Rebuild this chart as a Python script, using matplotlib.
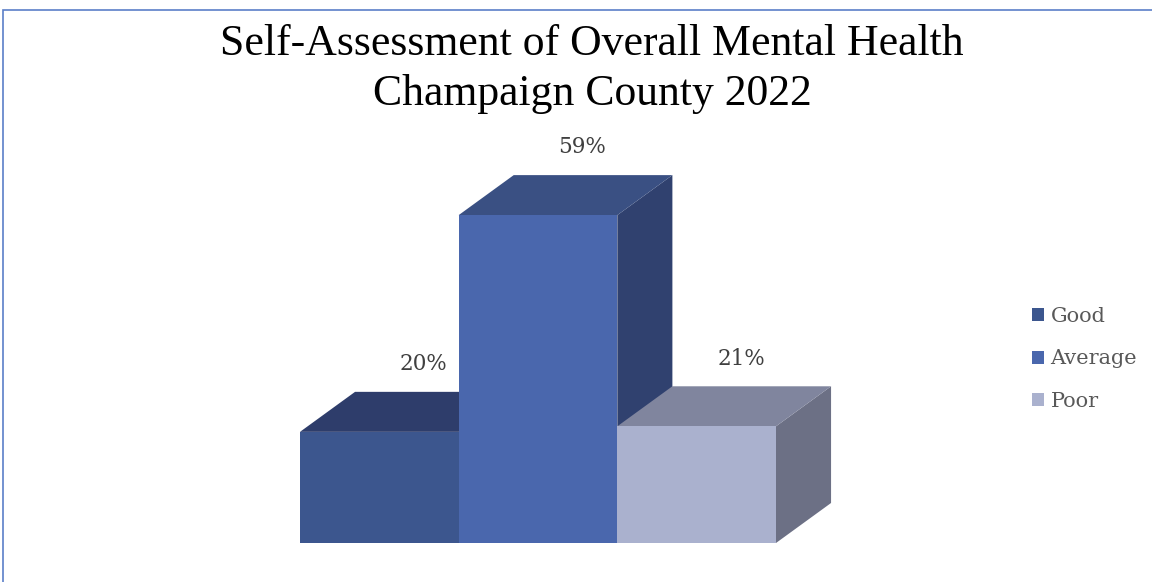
import matplotlib
matplotlib.use('Agg')
import matplotlib.pyplot as plt
from matplotlib.patches import Polygon, Rectangle, Patch

# Chart data
categories = ['Good', 'Average', 'Poor']
values = [20, 59, 21]
labels = ['20%', '59%', '21%']

front_colors = ['#3C568E', '#4A67AD', '#AAB1CE']
top_colors = ['#2E3D6B', '#3A5083', '#80859E']
side_colors = ['#2A3862', '#30416F', '#6C7085']

W, H = 1152, 582
fig = plt.figure(figsize=(W / 100, H / 100), dpi=100)
fig.patch.set_facecolor('white')

# outer chart border (runs off the right and bottom edges)
fig.patches.append(Rectangle((3 / W, -0.05), 1.2, (H - 10) / H + 0.05,
                             transform=fig.transFigure, fill=False,
                             edgecolor='#5B7FC8', linewidth=1.2))

ax = fig.add_axes([300 / W, (H - 543) / H, 476 / W, 389 / H])
ax.set_xlim(-0.5, 2.5)
ax.set_ylim(0, 70)
ax.axis('off')

# depth of the fake 3-D boxes, in data units
dx, dy = 0.347, 7.2
bw = 1.0

for i, (v, lab) in enumerate(zip(values, labels)):
    x0, x1 = i - bw / 2, i + bw / 2
    side = Polygon([(x1, 0), (x1 + dx, dy), (x1 + dx, v + dy), (x1, v)],
                   closed=True, facecolor=side_colors[i], edgecolor='none',
                   clip_on=False)
    top = Polygon([(x0, v), (x0 + dx, v + dy), (x1 + dx, v + dy), (x1, v)],
                  closed=True, facecolor=top_colors[i], edgecolor='none',
                  clip_on=False)
    ax.add_patch(side)
    ax.add_patch(top)
    ax.bar(i, v, width=bw, color=front_colors[i], edgecolor='none',
           clip_on=False)
    ax.text(i + 0.28, v + dy + 5.0, lab, ha='center', va='center',
            fontsize=15.5, color='#404040', family='DejaVu Serif')

fig.text(592 / W, 1 - 69 / H,
         'Self-Assessment of Overall Mental Health\nChampaign County 2022',
         ha='center', va='center', fontsize=31.5, family='Liberation Serif',
         color='black', linespacing=1.3)

handles = [Patch(facecolor=c, edgecolor='none') for c in front_colors]
leg = fig.legend(handles, categories, loc='center left',
                 bbox_to_anchor=(1013 / W, 1 - 359 / H), frameon=False,
                 prop={'family': 'DejaVu Serif', 'size': 15},
                 handlelength=0.6, handleheight=0.6, handletextpad=0.3,
                 labelspacing=1.12)
for t in leg.get_texts():
    t.set_color('#595959')

fig.savefig('out.png', dpi=100)
